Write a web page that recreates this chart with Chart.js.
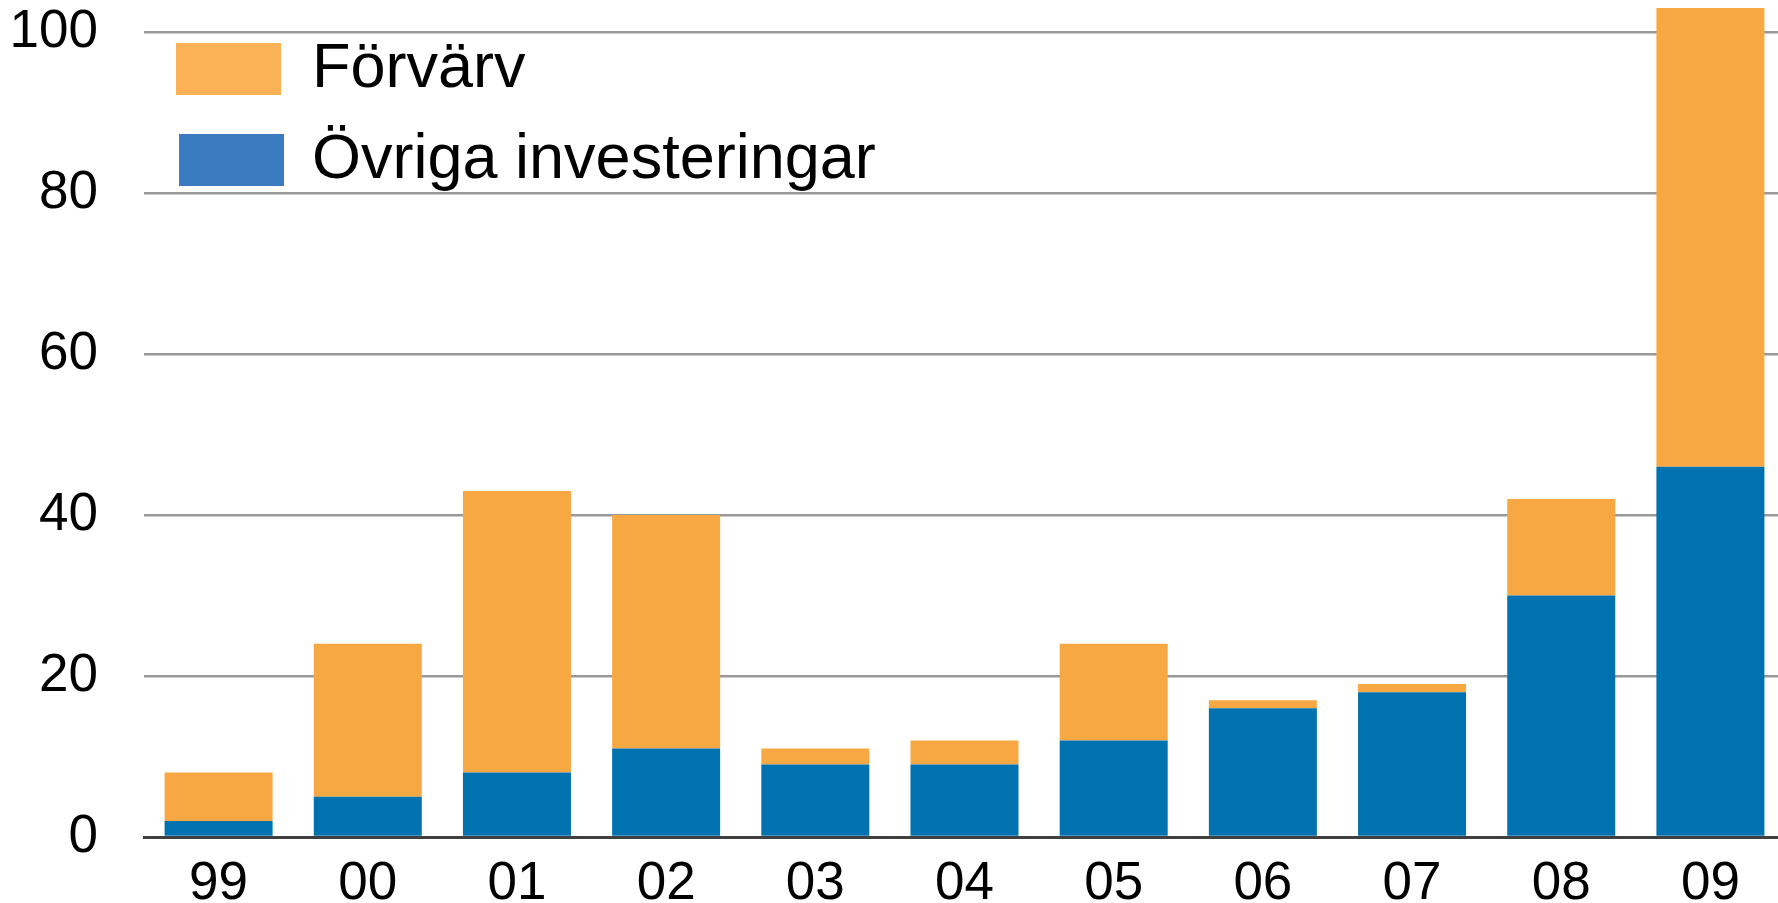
<!DOCTYPE html>
<html>
<head>
<meta charset="utf-8">
<script src="https://cdn.jsdelivr.net/npm/chart.js@4/dist/chart.umd.min.js"></script>
<style>
  html, body { margin: 0; padding: 0; background: #ffffff; overflow: hidden; }
  #wrap { width: 1778px; height: 903px; overflow: hidden; }
</style>
</head>
<body>
<div id="wrap"><canvas id="investChart" width="1785" height="903"></canvas></div>
<script>
// DATA
const years = ["99", "00", "01", "02", "03", "04", "05", "06", "07", "08", "09"];
const ovriga = [2, 5, 8, 11, 9, 9, 12, 16, 18, 30, 46];
const forvarv = [6, 19, 35, 29, 2, 3, 12, 1, 1, 12, 57];
const yTicks = [0, 20, 40, 60, 80, 100];

const ORANGE = "#f8a843";
const BLUE = "#0072b0";
const FONT = "'Liberation Sans', Arial, sans-serif";

// legend drawn inside the plot, top-left, stacked vertically
const insideLegend = {
  id: "insideLegend",
  afterDraw(chart) {
    const ctx = chart.ctx;
    const items = [
      { label: chart.data.datasets[1].label, color: "#fbb257", x: 176, y: 43 },
      { label: chart.data.datasets[0].label, color: "#3b7bbf", x: 179, y: 134 }
    ];
    ctx.save();
    ctx.font = "63px " + FONT;
    ctx.textBaseline = "middle";
    items.forEach(function (it) {
      ctx.fillStyle = it.color;
      ctx.fillRect(it.x, it.y, 105, 52);
      ctx.fillStyle = "#000";
      ctx.fillText(it.label, 312, it.y + 27);
    });
    ctx.restore();
  }
};

new Chart(document.getElementById("investChart"), {
  type: "bar",
  data: {
    labels: years,
    datasets: [
      { label: "Övriga investeringar", data: ovriga, backgroundColor: BLUE },
      { label: "Förvärv", data: forvarv, backgroundColor: ORANGE }
    ]
  },
  options: {
    responsive: false,
    animation: false,
    layout: { padding: 0 },
    datasets: { bar: { barPercentage: 0.724, categoryPercentage: 1 } },
    plugins: { legend: { display: false }, tooltip: { enabled: false } },
    scales: {
      x: {
        stacked: true,
        grid: { display: false, drawTicks: false },
        border: { display: true, color: "#404040", width: 3 },
        ticks: {
          color: "#000",
          padding: 16,
          font: { family: FONT, size: 53 }
        },
        afterFit: function (scale) {
          scale.height = 66;
          scale.paddingLeft = 0;
          scale.paddingRight = 0;
        }
      },
      y: {
        stacked: true,
        min: 0,
        max: 104,
        afterBuildTicks: function (scale) {
          scale.ticks = yTicks.map(function (v) { return { value: v }; });
        },
        grid: { color: "#999999", lineWidth: 2.5, drawTicks: false },
        border: { display: false },
        ticks: {
          color: "#000",
          padding: 46,
          font: { family: FONT, size: 53 }
        },
        afterFit: function (scale) {
          scale.width = 144;
          scale.paddingTop = 0;
          scale.paddingBottom = 0;
        }
      }
    }
  },
  plugins: [insideLegend]
});
</script>
</body>
</html>
